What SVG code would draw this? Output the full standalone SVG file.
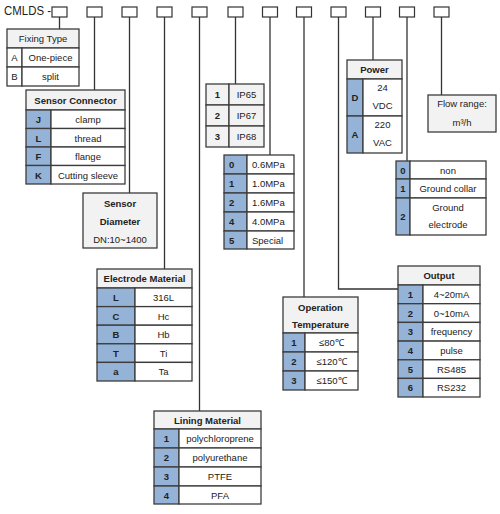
<svg xmlns="http://www.w3.org/2000/svg" width="500" height="514" viewBox="0 0 500 514">
<style>
rect{stroke:#3c3c3c;stroke-width:1.3}
.h{fill:#f2f2f2}
.k{fill:#95b3d7}
.v{fill:#ffffff}
.bg{fill:#ffffff;stroke:none}
.sq{fill:#ffffff;stroke:#333;stroke-width:1.2}
text{font-family:"Liberation Sans",Arial,sans-serif;font-size:9.5px;fill:#222;text-anchor:middle}
.t{font-weight:bold}
.kt{font-weight:bold}
.l{text-anchor:start}
.conn path{fill:none;stroke:#333;stroke-width:1.3}
</style>
<rect class="bg" width="500" height="514"/>
<text x="4" y="15" class="l" style="font-size:12.5px" textLength="47" lengthAdjust="spacingAndGlyphs">CMLDS -</text>
<g id="code-boxes">
<rect class="sq" x="52" y="7" width="15" height="10"/>
<rect class="sq" x="87" y="7" width="15" height="10"/>
<rect class="sq" x="122" y="7" width="15" height="10"/>
<rect class="sq" x="157" y="7" width="15" height="10"/>
<rect class="sq" x="192" y="7" width="15" height="10"/>
<rect class="sq" x="228" y="7" width="15" height="10"/>
<rect class="sq" x="262.5" y="7" width="15" height="10"/>
<rect class="sq" x="296.5" y="7" width="15" height="10"/>
<rect class="sq" x="331" y="7" width="15" height="10"/>
<rect class="sq" x="365.5" y="7" width="15" height="10"/>
<rect class="sq" x="399.5" y="7" width="15" height="10"/>
<rect class="sq" x="434" y="7" width="15" height="10"/>
</g>
<g class="conn" id="connectors">
<path d="M59.5 17V29"/>
<path d="M94.5 17V90"/>
<path d="M129.5 17V193"/>
<path d="M164.5 17V269"/>
<path d="M199.5 17V411"/>
<path d="M235.5 17V84"/>
<path d="M270 17V155"/>
<path d="M304 17V297"/>
<path d="M338.5 17V289H398"/>
<path d="M373 17V60"/>
<path d="M407 17V161"/>
<path d="M441.5 17V95"/>
</g>
<g id="fixing-type">
<rect class="h" x="7" y="29" width="72" height="19"/>
<text x="43" y="42">Fixing Type</text>
<rect class="v" x="7" y="48" width="15" height="19"/><rect class="v" x="22" y="48" width="57" height="19"/>
<text x="14.5" y="61">A</text><text x="50.5" y="61">One-piece</text>
<rect class="v" x="7" y="67" width="15" height="19"/><rect class="v" x="22" y="67" width="57" height="19"/>
<text x="14.5" y="80">B</text><text x="50.5" y="80">split</text>
</g>
<g id="sensor-connector">
<rect class="h" x="26" y="90" width="99" height="20"/>
<text class="t" x="75.5" y="104">Sensor Connector</text>
<rect class="k" x="26" y="110" width="25" height="18.5"/><rect class="v" x="51" y="110" width="74" height="18.5"/>
<text class="kt" x="38.5" y="123">J</text><text x="88" y="123">clamp</text>
<rect class="k" x="26" y="128.5" width="25" height="18.5"/><rect class="v" x="51" y="128.5" width="74" height="18.5"/>
<text class="kt" x="38.5" y="141.5">L</text><text x="88" y="141.5">thread</text>
<rect class="k" x="26" y="147" width="25" height="18.5"/><rect class="v" x="51" y="147" width="74" height="18.5"/>
<text class="kt" x="38.5" y="160">F</text><text x="88" y="160">flange</text>
<rect class="k" x="26" y="165.5" width="25" height="18.5"/><rect class="v" x="51" y="165.5" width="74" height="18.5"/>
<text class="kt" x="38.5" y="178.5">K</text><text x="88" y="178.5">Cutting sleeve</text>
</g>
<g id="sensor-diameter">
<rect class="h" x="83" y="193" width="74" height="55"/>
<text class="t" x="120" y="207">Sensor</text>
<text class="t" x="120" y="225">Diameter</text>
<text x="120" y="243">DN:10~1400</text>
</g>
<g id="protection">
<rect class="h" x="206" y="84" width="23" height="21"/><rect class="h" x="229" y="84" width="35" height="21"/>
<text class="kt" x="217.5" y="98">1</text><text x="246.5" y="98">IP65</text>
<rect class="h" x="206" y="105" width="23" height="21"/><rect class="h" x="229" y="105" width="35" height="21"/>
<text class="kt" x="217.5" y="119">2</text><text x="246.5" y="119">IP67</text>
<rect class="h" x="206" y="126" width="23" height="21"/><rect class="h" x="229" y="126" width="35" height="21"/>
<text class="kt" x="217.5" y="140">3</text><text x="246.5" y="140">IP68</text>
</g>
<g id="pressure">
<rect class="k" x="224" y="155" width="23" height="19"/><rect class="v" x="247" y="155" width="47" height="19"/>
<text class="kt l" x="229" y="168">0</text><text class="l" x="252" y="168">0.6MPa</text>
<rect class="k" x="224" y="174" width="23" height="19"/><rect class="v" x="247" y="174" width="47" height="19"/>
<text class="kt l" x="229" y="187">1</text><text class="l" x="252" y="187">1.0MPa</text>
<rect class="k" x="224" y="193" width="23" height="19"/><rect class="v" x="247" y="193" width="47" height="19"/>
<text class="kt l" x="229" y="206">2</text><text class="l" x="252" y="206">1.6MPa</text>
<rect class="k" x="224" y="212" width="23" height="19"/><rect class="v" x="247" y="212" width="47" height="19"/>
<text class="kt l" x="229" y="225">4</text><text class="l" x="252" y="225">4.0MPa</text>
<rect class="k" x="224" y="231" width="23" height="18"/><rect class="v" x="247" y="231" width="47" height="18"/>
<text class="kt l" x="229" y="244">5</text><text class="l" x="252" y="244">Special</text>
</g>
<g id="electrode-material">
<rect class="h" x="97" y="269" width="95" height="19"/>
<text class="t" x="144.5" y="282">Electrode Material</text>
<rect class="k" x="97" y="288" width="38" height="18.6"/><rect class="v" x="135" y="288" width="57" height="18.6"/>
<text class="kt" x="116" y="301">L</text><text x="163.5" y="301">316L</text>
<rect class="k" x="97" y="306.6" width="38" height="18.6"/><rect class="v" x="135" y="306.6" width="57" height="18.6"/>
<text class="kt" x="116" y="319.6">C</text><text x="163.5" y="319.6">Hc</text>
<rect class="k" x="97" y="325.2" width="38" height="18.6"/><rect class="v" x="135" y="325.2" width="57" height="18.6"/>
<text class="kt" x="116" y="338.2">B</text><text x="163.5" y="338.2">Hb</text>
<rect class="k" x="97" y="343.8" width="38" height="18.6"/><rect class="v" x="135" y="343.8" width="57" height="18.6"/>
<text class="kt" x="116" y="356.8">T</text><text x="163.5" y="356.8">Ti</text>
<rect class="k" x="97" y="362.4" width="38" height="18.6"/><rect class="v" x="135" y="362.4" width="57" height="18.6"/>
<text class="kt" x="116" y="375.4">a</text><text x="163.5" y="375.4">Ta</text>
</g>
<g id="lining-material">
<rect class="h" x="154" y="411" width="107" height="18"/>
<text class="t" x="207.5" y="424">Lining Material</text>
<rect class="k" x="154" y="429" width="25" height="19"/><rect class="v" x="179" y="429" width="82" height="19"/>
<text class="kt" x="166.5" y="442">1</text><text x="220" y="442">polychloroprene</text>
<rect class="k" x="154" y="448" width="25" height="19"/><rect class="v" x="179" y="448" width="82" height="19"/>
<text class="kt" x="166.5" y="461">2</text><text x="220" y="461">polyurethane</text>
<rect class="k" x="154" y="467" width="25" height="19"/><rect class="v" x="179" y="467" width="82" height="19"/>
<text class="kt" x="166.5" y="480">3</text><text x="220" y="480">PTFE</text>
<rect class="k" x="154" y="486" width="25" height="18"/><rect class="v" x="179" y="486" width="82" height="18"/>
<text class="kt" x="166.5" y="499">4</text><text x="220" y="499">PFA</text>
</g>
<g id="operation-temperature">
<rect class="h" x="283" y="297" width="75" height="36"/>
<text class="t" x="320.5" y="311">Operation</text>
<text class="t" x="320.5" y="328">Temperature</text>
<rect class="k" x="283" y="333" width="22" height="19"/><rect class="v" x="305" y="333" width="53" height="19"/>
<text class="kt" x="294" y="346">1</text><text x="331.5" y="346">≤80℃</text>
<rect class="k" x="283" y="352" width="22" height="19"/><rect class="v" x="305" y="352" width="53" height="19"/>
<text class="kt" x="294" y="365">2</text><text x="331.5" y="365">≤120℃</text>
<rect class="k" x="283" y="371" width="22" height="19"/><rect class="v" x="305" y="371" width="53" height="19"/>
<text class="kt" x="294" y="384">3</text><text x="331.5" y="384">≤150℃</text>
</g>
<g id="output">
<rect class="h" x="398" y="266" width="82" height="19"/>
<text class="t" x="439" y="279">Output</text>
<rect class="k" x="398" y="285" width="25" height="18.7"/><rect class="v" x="423" y="285" width="57" height="18.7"/>
<text class="kt" x="410.5" y="298">1</text><text x="451.5" y="298">4~20mA</text>
<rect class="k" x="398" y="303.7" width="25" height="18.7"/><rect class="v" x="423" y="303.7" width="57" height="18.7"/>
<text class="kt" x="410.5" y="316.7">2</text><text x="451.5" y="316.7">0~10mA</text>
<rect class="k" x="398" y="322.4" width="25" height="18.7"/><rect class="v" x="423" y="322.4" width="57" height="18.7"/>
<text class="kt" x="410.5" y="335.4">3</text><text x="451.5" y="335.4">frequency</text>
<rect class="k" x="398" y="341.1" width="25" height="18.7"/><rect class="v" x="423" y="341.1" width="57" height="18.7"/>
<text class="kt" x="410.5" y="354.1">4</text><text x="451.5" y="354.1">pulse</text>
<rect class="k" x="398" y="359.8" width="25" height="18.6"/><rect class="v" x="423" y="359.8" width="57" height="18.6"/>
<text class="kt" x="410.5" y="372.8">5</text><text x="451.5" y="372.8">RS485</text>
<rect class="k" x="398" y="378.4" width="25" height="18.6"/><rect class="v" x="423" y="378.4" width="57" height="18.6"/>
<text class="kt" x="410.5" y="391.4">6</text><text x="451.5" y="391.4">RS232</text>
</g>
<g id="power">
<rect class="h" x="347" y="60" width="55" height="19"/>
<text class="t" x="374.5" y="73">Power</text>
<rect class="k" x="347" y="79" width="16" height="37"/><rect class="v" x="363" y="79" width="39" height="37"/>
<text class="kt" x="355" y="101">D</text><text x="382.5" y="91">24</text><text x="382.5" y="109">VDC</text>
<rect class="k" x="347" y="116" width="16" height="37"/><rect class="v" x="363" y="116" width="39" height="37"/>
<text class="kt" x="355" y="138">A</text><text x="382.5" y="128">220</text><text x="382.5" y="146">VAC</text>
</g>
<g id="grounding">
<rect class="k" x="396" y="161" width="14" height="18"/><rect class="v" x="410" y="161" width="76" height="18"/>
<text class="kt" x="403" y="174">0</text><text x="448" y="174">non</text>
<rect class="k" x="396" y="179" width="14" height="19"/><rect class="v" x="410" y="179" width="76" height="19"/>
<text class="kt" x="403" y="192">1</text><text x="448" y="192">Ground collar</text>
<rect class="k" x="396" y="198" width="14" height="37"/><rect class="v" x="410" y="198" width="76" height="37"/>
<text class="kt" x="403" y="220">2</text><text x="448" y="211">Ground</text><text x="448" y="228">electrode</text>
</g>
<g id="flow-range">
<rect class="h" x="428" y="95" width="68" height="37"/>
<text x="462" y="107">Flow range:</text>
<text x="462" y="126">m³/h</text>
</g>
</svg>
